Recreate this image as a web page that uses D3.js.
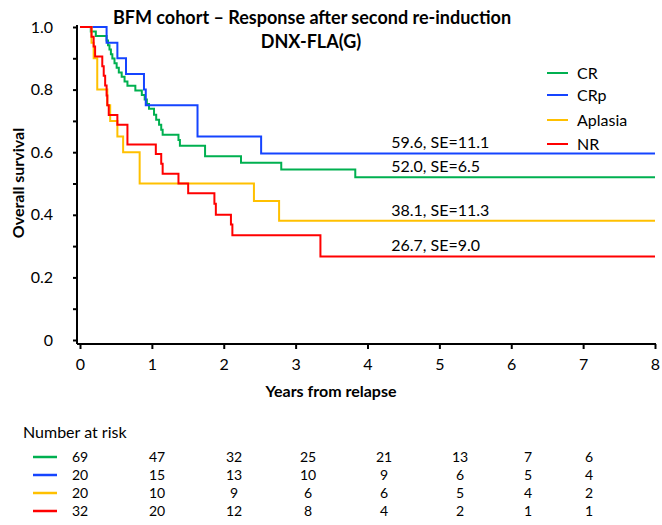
<!DOCTYPE html>
<html>
<head>
<meta charset="utf-8">
<script src="https://cdn.jsdelivr.net/npm/d3@7"></script>
<style>
  body { margin: 0; background: #fff; }
  text { font-family: Lato, "Liberation Sans", sans-serif; fill: #000; }
</style>
</head>
<body>
<svg id="chart" width="662" height="525"></svg>
<script>
// series names and colours
var groups = ["CR", "CRp", "Aplasia", "NR"];

// Kaplan-Meier steps (years, survival)
var crTime = [0, 0.15, 0.22, 0.37, 0.39, 0.41, 0.43, 0.45, 0.48, 0.51, 0.54, 0.58, 0.62, 0.66, 0.77, 0.86, 0.90, 0.93, 0.96, 1.03, 1.06, 1.10, 1.13, 1.15, 1.37, 1.39, 1.74, 2.24, 2.80, 3.83, 8];
var crSurv = [1, 0.986, 0.971, 0.957, 0.942, 0.928, 0.913, 0.899, 0.884, 0.870, 0.855, 0.841, 0.826, 0.812, 0.797, 0.783, 0.768, 0.754, 0.739, 0.720, 0.704, 0.688, 0.672, 0.656, 0.639, 0.621, 0.587, 0.566, 0.545, 0.520, 0.520];

var crpTime = [0, 0.37, 0.52, 0.64, 0.89, 0.915, 1.635, 2.52, 8];
var crpSurv = [1, 0.95, 0.90, 0.85, 0.80, 0.75, 0.65, 0.596, 0.596];

var aplTime = [0, 0.16, 0.19, 0.24, 0.38, 0.42, 0.52, 0.60, 0.83, 2.42, 2.77, 8];
var aplSurv = [1, 0.95, 0.90, 0.80, 0.75, 0.70, 0.65, 0.60, 0.50, 0.444, 0.381, 0.381];

var nrTime = [0, 0.16, 0.19, 0.21, 0.31, 0.33, 0.35, 0.37, 0.38, 0.40, 0.52, 0.66, 1.055, 1.13, 1.15, 1.37, 1.505, 1.87, 1.89, 2.10, 2.12, 3.345, 8];
var nrSurv = [1, 0.969, 0.938, 0.906, 0.875, 0.844, 0.813, 0.781, 0.750, 0.719, 0.688, 0.625, 0.594, 0.563, 0.531, 0.500, 0.469, 0.435, 0.400, 0.369, 0.335, 0.267, 0.267];

var annotations = ["52.0, SE=6.5", "59.6, SE=11.1", "38.1, SE=11.3", "26.7, SE=9.0"];

// number at risk table
var riskYears = [0, 1, 2, 3, 4, 5, 6, 7];
var riskCR = [69, 47, 32, 25, 21, 13, 7, 6];
var riskCRp = [20, 15, 13, 10, 9, 6, 5, 4];
var riskApl = [20, 10, 9, 6, 6, 5, 4, 2];
var riskNR = [32, 20, 12, 8, 4, 2, 1, 1];

var xTicks = [0, 1, 2, 3, 4, 5, 6, 7, 8];
var yTicks = [0, 0.2, 0.4, 0.6, 0.8, 1.0];
var yTickLabels = ["0", "0.2", "0.4", "0.6", "0.8", "1.0"];

var colors = ["#00b050", "#1544ff", "#ffc000", "#ff0000"];

var series = groups.map(function (g, i) {
  var t = [crTime, crpTime, aplTime, nrTime][i],
    s = [crSurv, crpSurv, aplSurv, nrSurv][i];
  return {
    name: g,
    color: colors[i],
    label: annotations[i],
    risk: [riskCR, riskCRp, riskApl, riskNR][i],
    points: t.map(function (d, j) { return [d, s[j]]; })
  };
});

var svg = d3.select("#chart");

var x = d3.scaleLinear().domain([0, 8]).range([80, 655]);
var y = d3.scaleLinear().domain([0, 1]).range([340, 27]);

// title
svg.append("text")
  .attr("x", 312).attr("y", 24)
  .attr("text-anchor", "middle")
  .style("font-weight", "bold").style("font-size", "18px")
  .text("BFM cohort \u2013 Response after second re-induction");
svg.append("text")
  .attr("x", 311).attr("y", 48)
  .attr("text-anchor", "middle")
  .style("font-weight", "bold").style("font-size", "18px")
  .text("DNX-FLA(G)");

// axes
var xAxis = svg.append("g")
  .attr("transform", "translate(0,344)")
  .call(d3.axisBottom(x).tickValues(xTicks).tickFormat(d3.format("d")).tickSize(5).tickPadding(10));
xAxis.select(".domain").attr("d", "M77,0H656");

var yAxis = svg.append("g")
  .attr("transform", "translate(77,0)")
  .call(d3.axisLeft(y).ticks(10).tickSize(4).tickFormat(function (d) {
    var k = yTicks.findIndex(function (v) { return Math.abs(v - d) < 1e-6; });
    return k < 0 ? "" : yTickLabels[k];
  }).tickPadding(20));
yAxis.select(".domain").attr("d", "M0,25V344");

svg.selectAll(".tick text").style("font-size", "16px").style("font-family", "Lato, 'Liberation Sans', sans-serif");
svg.selectAll(".domain, .tick line").attr("stroke", "#000").attr("stroke-width", 2);

// axis titles
svg.append("text")
  .attr("transform", "translate(24,183) rotate(-90)")
  .attr("text-anchor", "middle")
  .style("font-weight", "bold").style("font-size", "16px")
  .text("Overall survival");
svg.append("text")
  .attr("x", 331).attr("y", 397)
  .attr("text-anchor", "middle")
  .style("font-weight", "bold").style("font-size", "16px")
  .text("Years from relapse");

// survival curves
var line = d3.line()
  .x(function (d) { return x(d[0]); })
  .y(function (d) { return y(d[1]); })
  .curve(d3.curveStepAfter);

svg.selectAll(".km")
    .data(series)
  .enter().append("path")
    .attr("class", "km")
    .attr("d", function (d) { return line(d.points); })
    .attr("fill", "none")
    .attr("stroke", function (d) { return d.color; })
    .attr("stroke-width", 2);

// end-of-curve estimates
svg.selectAll(".est")
    .data(series)
  .enter().append("text")
    .attr("class", "est")
    .attr("x", x(4.33))
    .attr("y", function (d) { return y(d.points[d.points.length - 1][1]) - 5; })
    .style("font-size", "16px")
    .text(function (d) { return d.label; });

// legend
var legend = svg.selectAll(".leg")
    .data(series)
  .enter().append("g")
    .attr("class", "leg")
    .attr("transform", function (d, i) { return "translate(547," + [73, 95, 120, 144][i] + ")"; });
legend.append("line")
  .attr("x1", 0).attr("x2", 21)
  .attr("stroke", function (d) { return d.color; })
  .attr("stroke-width", 2);
legend.append("text")
  .attr("x", 30).attr("dy", "0.35em")
  .style("font-size", "16px")
  .text(function (d) { return d.name; });

// number at risk
svg.append("text")
  .attr("x", 23).attr("y", 438)
  .style("font-size", "16px")
  .text("Number at risk");

var riskX = d3.scaleOrdinal().domain(riskYears).range([80, 157, 234, 308, 384, 460, 528, 589]);
var riskY = d3.scalePoint().domain(groups).range([457, 511]);

var rows = svg.selectAll(".riskrow")
    .data(series)
  .enter().append("g")
    .attr("class", "riskrow")
    .attr("transform", function (d) { return "translate(0," + riskY(d.name) + ")"; });
rows.append("line")
  .attr("x1", 33).attr("x2", 57)
  .attr("stroke", function (d) { return d.color; })
  .attr("stroke-width", 2.5);
rows.selectAll("text")
    .data(function (d) { return d.risk; })
  .enter().append("text")
    .attr("x", function (d, i) { return riskX(riskYears[i]); })
    .attr("dy", "0.35em")
    .attr("text-anchor", "middle")
    .style("font-size", "14px")
    .text(function (d) { return d; });
</script>
</body>
</html>
